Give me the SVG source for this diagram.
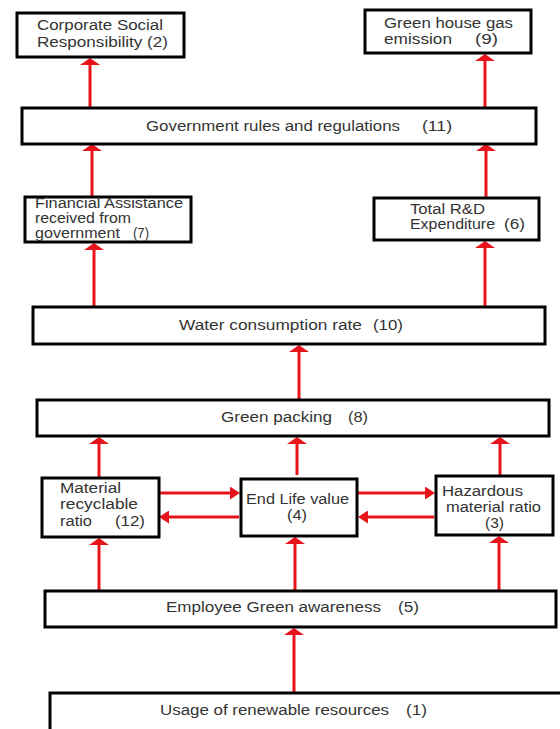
<svg xmlns="http://www.w3.org/2000/svg" width="560" height="729" viewBox="0 0 560 729">
<style>
.box{fill:#fff;stroke:#000;stroke-width:3}
.t{font-family:"Liberation Sans",Arial,sans-serif;font-size:14px;fill:#333}
.c{stroke:#e8141c;stroke-width:3;fill:none}
.v{marker-end:url(#hv)}
.h{marker-end:url(#hh)}
</style>
<defs>
<marker id="hv" viewBox="0 0 7 20" refX="2" refY="10" markerWidth="7" markerHeight="20" markerUnits="userSpaceOnUse" orient="auto">
<path d="M0,0 L7,10 L0,20 z" fill="#e8141c"/>
</marker>
<marker id="hh" viewBox="0 0 10 13" refX="3" refY="6.5" markerWidth="10" markerHeight="13" markerUnits="userSpaceOnUse" orient="auto">
<path d="M0,0 L10,6.5 L0,13 z" fill="#e8141c"/>
</marker>
</defs>
<rect width="560" height="729" fill="#fff"/>

<g id="connectors">
<line class="c v" x1="90" y1="107" x2="90" y2="63"/>
<line class="c v" x1="485" y1="107" x2="485" y2="59"/>
<line class="c v" x1="92" y1="196" x2="92" y2="149"/>
<line class="c v" x1="486" y1="197" x2="486" y2="149"/>
<line class="c v" x1="94" y1="306" x2="94" y2="248"/>
<line class="c v" x1="485" y1="306" x2="485" y2="246"/>
<line class="c v" x1="299" y1="399" x2="299" y2="350"/>
<line class="c v" x1="99" y1="477" x2="99" y2="442"/>
<line class="c v" x1="297" y1="475" x2="297" y2="442"/>
<line class="c v" x1="500" y1="475" x2="500" y2="442"/>
<line class="c v" x1="99" y1="590" x2="99" y2="543"/>
<line class="c v" x1="295" y1="590" x2="295" y2="542"/>
<line class="c v" x1="499" y1="590" x2="499" y2="541"/>
<line class="c v" x1="294" y1="692" x2="294" y2="633"/>
<line class="c h" x1="160" y1="493" x2="233" y2="493"/>
<line class="c h" x1="239" y1="517" x2="166" y2="517"/>
<line class="c h" x1="358" y1="493" x2="428" y2="493"/>
<line class="c h" x1="434" y1="517" x2="365" y2="517"/>
</g>

<g id="n2">
<rect class="box" x="17" y="13" width="167" height="44"/>
<text class="t" x="37" y="30" textLength="126" lengthAdjust="spacingAndGlyphs">Corporate Social</text>
<text class="t" x="37" y="47" textLength="131" lengthAdjust="spacingAndGlyphs">Responsibility (2)</text>
</g>
<g id="n9">
<rect class="box" x="365" y="10" width="166" height="43"/>
<text class="t" x="384" y="28" textLength="129" lengthAdjust="spacingAndGlyphs">Green house gas</text>
<text class="t" x="384" y="44" textLength="68" lengthAdjust="spacingAndGlyphs">emission</text>
<text class="t" x="475" y="44" textLength="23" lengthAdjust="spacingAndGlyphs">(9)</text>
</g>
<g id="n11">
<rect class="box" x="22" y="108" width="514" height="36"/>
<text class="t" x="146" y="131" textLength="254" lengthAdjust="spacingAndGlyphs">Government rules and regulations</text>
<text class="t" x="422" y="131" textLength="30" lengthAdjust="spacingAndGlyphs">(11)</text>
</g>
<g id="n7">
<rect class="box" x="25" y="197" width="166" height="45"/>
<text class="t" x="35" y="208" textLength="148" lengthAdjust="spacingAndGlyphs">Financial Assistance</text>
<text class="t" x="35" y="223" textLength="96" lengthAdjust="spacingAndGlyphs">received from</text>
<text class="t" x="35" y="238" textLength="85" lengthAdjust="spacingAndGlyphs">government</text>
<text class="t" x="133" y="238" textLength="16" lengthAdjust="spacingAndGlyphs">(7)</text>
</g>
<g id="n6">
<rect class="box" x="374" y="198" width="165" height="42"/>
<text class="t" x="410" y="214" textLength="75" lengthAdjust="spacingAndGlyphs">Total R&amp;D</text>
<text class="t" x="410" y="229" textLength="85" lengthAdjust="spacingAndGlyphs">Expenditure</text>
<text class="t" x="504" y="229" textLength="21" lengthAdjust="spacingAndGlyphs">(6)</text>
</g>
<g id="n10">
<rect class="box" x="33" y="307" width="512" height="37"/>
<text class="t" x="179" y="330" textLength="183" lengthAdjust="spacingAndGlyphs">Water consumption rate</text>
<text class="t" x="373" y="330" textLength="30" lengthAdjust="spacingAndGlyphs">(10)</text>
</g>
<g id="n8">
<rect class="box" x="37" y="400" width="512" height="36"/>
<text class="t" x="221" y="422" textLength="111" lengthAdjust="spacingAndGlyphs">Green packing</text>
<text class="t" x="348" y="422" textLength="20" lengthAdjust="spacingAndGlyphs">(8)</text>
</g>
<g id="n12">
<rect class="box" x="42" y="478" width="117" height="59"/>
<text class="t" x="60" y="493" textLength="61" lengthAdjust="spacingAndGlyphs">Material</text>
<text class="t" x="60" y="509" textLength="78" lengthAdjust="spacingAndGlyphs">recyclable</text>
<text class="t" x="60" y="526" textLength="32" lengthAdjust="spacingAndGlyphs">ratio</text>
<text class="t" x="115" y="526" textLength="30" lengthAdjust="spacingAndGlyphs">(12)</text>
</g>
<g id="n4">
<rect class="box" x="241" y="479" width="116" height="57"/>
<text class="t" x="246" y="504" textLength="103" lengthAdjust="spacingAndGlyphs">End Life value</text>
<text class="t" x="287" y="520" textLength="20" lengthAdjust="spacingAndGlyphs">(4)</text>
</g>
<g id="n3">
<rect class="box" x="436" y="476" width="117" height="59"/>
<text class="t" x="442" y="496" textLength="81" lengthAdjust="spacingAndGlyphs">Hazardous</text>
<text class="t" x="446" y="512" textLength="95" lengthAdjust="spacingAndGlyphs">material ratio</text>
<text class="t" x="485" y="528" textLength="19" lengthAdjust="spacingAndGlyphs">(3)</text>
</g>
<g id="n5">
<rect class="box" x="45" y="591" width="511" height="36"/>
<text class="t" x="166" y="612" textLength="215" lengthAdjust="spacingAndGlyphs">Employee Green awareness</text>
<text class="t" x="398" y="612" textLength="21" lengthAdjust="spacingAndGlyphs">(5)</text>
</g>
<g id="n1">
<rect class="box" x="50" y="693" width="530" height="60"/>
<text class="t" x="160" y="715" textLength="229" lengthAdjust="spacingAndGlyphs">Usage of renewable resources</text>
<text class="t" x="406" y="715" textLength="21" lengthAdjust="spacingAndGlyphs">(1)</text>
</g>
</svg>
